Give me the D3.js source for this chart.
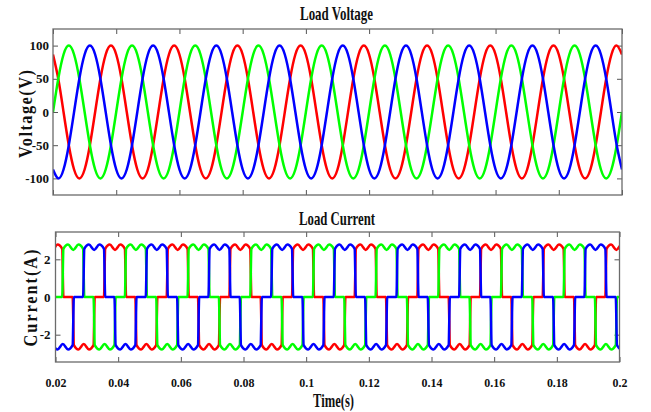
<!DOCTYPE html>
<html>
<head>
<meta charset="utf-8">
<script src="https://d3js.org/d3.v7.min.js"></script>
<style>
  body { margin: 0; background: #fff; }
  text { font-family: "Liberation Serif", "Times New Roman", serif; font-weight: bold; fill: #111; }
</style>
</head>
<body>
<div id="chart"></div>
<script>
// ---- data (time in ms) ----

// x axis ticks
const xTicks = [20, 40, 60, 80, 100, 120, 140, 160, 180, 200];
const xTickLabels = ["0.02", "0.04", "0.06", "0.08", "0.1", "0.12", "0.14", "0.16", "0.18", "0.2"];

// voltage ticks
const vTicks = [-100, -50, 0, 50, 100];
const vTickLabels = ["-100", "-50", "0", "50", "100"];

// current ticks
const iTicks = [-2, 0, 2];
const iTickLabels = ["-2", "0", "2"];

// load voltage samples
const vTime = [
  20, 21.667, 23.333, 25, 26.667, 28.333, 30, 31.667, 33.333, 35, 36.667, 38.333,
  40, 41.667, 43.333, 45, 46.667, 48.333, 50, 51.667, 53.333, 55, 56.667, 58.333,
  60, 61.667, 63.333, 65, 66.667, 68.333, 70, 71.667, 73.333, 75, 76.667, 78.333,
  80, 81.667, 83.333, 85, 86.667, 88.333, 90, 91.667, 93.333, 95, 96.667, 98.333,
  100, 101.667, 103.333, 105, 106.667, 108.333, 110, 111.667, 113.333, 115, 116.667, 118.333,
  120, 121.667, 123.333, 125, 126.667, 128.333, 130, 131.667, 133.333, 135, 136.667, 138.333,
  140, 141.667, 143.333, 145, 146.667, 148.333, 150, 151.667, 153.333, 155, 156.667, 158.333,
  160, 161.667, 163.333, 165, 166.667, 168.333, 170, 171.667, 173.333, 175, 176.667, 178.333,
  180, 181.667, 183.333, 185, 186.667, 188.333, 190, 191.667, 193.333, 195, 196.667, 198.333,
  200
];
const vRed = [
  86.6, 50, 0, -50, -86.6, -100, -86.6, -50, 0, 50, 86.6, 100,
  86.6, 50, 0, -50, -86.6, -100, -86.6, -50, 0, 50, 86.6, 100,
  86.6, 50, 0, -50, -86.6, -100, -86.6, -50, 0, 50, 86.6, 100,
  86.6, 50, 0, -50, -86.6, -100, -86.6, -50, 0, 50, 86.6, 100,
  86.6, 50, 0, -50, -86.6, -100, -86.6, -50, 0, 50, 86.6, 100,
  86.6, 50, 0, -50, -86.6, -100, -86.6, -50, 0, 50, 86.6, 100,
  86.6, 50, 0, -50, -86.6, -100, -86.6, -50, 0, 50, 86.6, 100,
  86.6, 50, 0, -50, -86.6, -100, -86.6, -50, 0, 50, 86.6, 100,
  86.6, 50, 0, -50, -86.6, -100, -86.6, -50, 0, 50, 86.6, 100,
  86.6
];
const vGreen = [
  0, 50, 86.6, 100, 86.6, 50, 0, -50, -86.6, -100, -86.6, -50,
  0, 50, 86.6, 100, 86.6, 50, 0, -50, -86.6, -100, -86.6, -50,
  0, 50, 86.6, 100, 86.6, 50, 0, -50, -86.6, -100, -86.6, -50,
  0, 50, 86.6, 100, 86.6, 50, 0, -50, -86.6, -100, -86.6, -50,
  0, 50, 86.6, 100, 86.6, 50, 0, -50, -86.6, -100, -86.6, -50,
  0, 50, 86.6, 100, 86.6, 50, 0, -50, -86.6, -100, -86.6, -50,
  0, 50, 86.6, 100, 86.6, 50, 0, -50, -86.6, -100, -86.6, -50,
  0, 50, 86.6, 100, 86.6, 50, 0, -50, -86.6, -100, -86.6, -50,
  0, 50, 86.6, 100, 86.6, 50, 0, -50, -86.6, -100, -86.6, -50,
  0
];
const vBlue = [
  -86.6, -100, -86.6, -50, 0, 50, 86.6, 100, 86.6, 50, 0, -50,
  -86.6, -100, -86.6, -50, 0, 50, 86.6, 100, 86.6, 50, 0, -50,
  -86.6, -100, -86.6, -50, 0, 50, 86.6, 100, 86.6, 50, 0, -50,
  -86.6, -100, -86.6, -50, 0, 50, 86.6, 100, 86.6, 50, 0, -50,
  -86.6, -100, -86.6, -50, 0, 50, 86.6, 100, 86.6, 50, 0, -50,
  -86.6, -100, -86.6, -50, 0, 50, 86.6, 100, 86.6, 50, 0, -50,
  -86.6, -100, -86.6, -50, 0, 50, 86.6, 100, 86.6, 50, 0, -50,
  -86.6, -100, -86.6, -50, 0, 50, 86.6, 100, 86.6, 50, 0, -50,
  -86.6, -100, -86.6, -50, 0, 50, 86.6, 100, 86.6, 50, 0, -50,
  -86.6
];

// load current key points [ms, A]
const iRed = [
  [17.333,2.78],[19,2.5],[20.667,2.78],[22.133,2.55],[22.533,0],
  [25.467,0],[25.867,-2.55],[27.333,-2.78],[29,-2.5],[30.667,-2.78],[32.133,-2.55],[32.533,0],[35.467,0],[35.867,2.55],[37.333,2.78],[39,2.5],[40.667,2.78],[42.133,2.55],[42.533,0],
  [45.467,0],[45.867,-2.55],[47.333,-2.78],[49,-2.5],[50.667,-2.78],[52.133,-2.55],[52.533,0],[55.467,0],[55.867,2.55],[57.333,2.78],[59,2.5],[60.667,2.78],[62.133,2.55],[62.533,0],
  [65.467,0],[65.867,-2.55],[67.333,-2.78],[69,-2.5],[70.667,-2.78],[72.133,-2.55],[72.533,0],[75.467,0],[75.867,2.55],[77.333,2.78],[79,2.5],[80.667,2.78],[82.133,2.55],[82.533,0],
  [85.467,0],[85.867,-2.55],[87.333,-2.78],[89,-2.5],[90.667,-2.78],[92.133,-2.55],[92.533,0],[95.467,0],[95.867,2.55],[97.333,2.78],[99,2.5],[100.667,2.78],[102.133,2.55],[102.533,0],
  [105.467,0],[105.867,-2.55],[107.333,-2.78],[109,-2.5],[110.667,-2.78],[112.133,-2.55],[112.533,0],[115.467,0],[115.867,2.55],[117.333,2.78],[119,2.5],[120.667,2.78],[122.133,2.55],[122.533,0],
  [125.467,0],[125.867,-2.55],[127.333,-2.78],[129,-2.5],[130.667,-2.78],[132.133,-2.55],[132.533,0],[135.467,0],[135.867,2.55],[137.333,2.78],[139,2.5],[140.667,2.78],[142.133,2.55],[142.533,0],
  [145.467,0],[145.867,-2.55],[147.333,-2.78],[149,-2.5],[150.667,-2.78],[152.133,-2.55],[152.533,0],[155.467,0],[155.867,2.55],[157.333,2.78],[159,2.5],[160.667,2.78],[162.133,2.55],[162.533,0],
  [165.467,0],[165.867,-2.55],[167.333,-2.78],[169,-2.5],[170.667,-2.78],[172.133,-2.55],[172.533,0],[175.467,0],[175.867,2.55],[177.333,2.78],[179,2.5],[180.667,2.78],[182.133,2.55],[182.533,0],
  [185.467,0],[185.867,-2.55],[187.333,-2.78],[189,-2.5],[190.667,-2.78],[192.133,-2.55],[192.533,0],[195.467,0],[195.867,2.55],[197.333,2.78],[199,2.5],[200.667,2.78],[202.133,2.55],[202.533,0]
];
const iGreen = [
  [19.2,0],
  [22.133,0],[22.533,2.55],[24,2.78],[25.667,2.5],[27.333,2.78],[28.8,2.55],[29.2,0],[32.133,0],[32.533,-2.55],[34,-2.78],[35.667,-2.5],[37.333,-2.78],[38.8,-2.55],[39.2,0],
  [42.133,0],[42.533,2.55],[44,2.78],[45.667,2.5],[47.333,2.78],[48.8,2.55],[49.2,0],[52.133,0],[52.533,-2.55],[54,-2.78],[55.667,-2.5],[57.333,-2.78],[58.8,-2.55],[59.2,0],
  [62.133,0],[62.533,2.55],[64,2.78],[65.667,2.5],[67.333,2.78],[68.8,2.55],[69.2,0],[72.133,0],[72.533,-2.55],[74,-2.78],[75.667,-2.5],[77.333,-2.78],[78.8,-2.55],[79.2,0],
  [82.133,0],[82.533,2.55],[84,2.78],[85.667,2.5],[87.333,2.78],[88.8,2.55],[89.2,0],[92.133,0],[92.533,-2.55],[94,-2.78],[95.667,-2.5],[97.333,-2.78],[98.8,-2.55],[99.2,0],
  [102.133,0],[102.533,2.55],[104,2.78],[105.667,2.5],[107.333,2.78],[108.8,2.55],[109.2,0],[112.133,0],[112.533,-2.55],[114,-2.78],[115.667,-2.5],[117.333,-2.78],[118.8,-2.55],[119.2,0],
  [122.133,0],[122.533,2.55],[124,2.78],[125.667,2.5],[127.333,2.78],[128.8,2.55],[129.2,0],[132.133,0],[132.533,-2.55],[134,-2.78],[135.667,-2.5],[137.333,-2.78],[138.8,-2.55],[139.2,0],
  [142.133,0],[142.533,2.55],[144,2.78],[145.667,2.5],[147.333,2.78],[148.8,2.55],[149.2,0],[152.133,0],[152.533,-2.55],[154,-2.78],[155.667,-2.5],[157.333,-2.78],[158.8,-2.55],[159.2,0],
  [162.133,0],[162.533,2.55],[164,2.78],[165.667,2.5],[167.333,2.78],[168.8,2.55],[169.2,0],[172.133,0],[172.533,-2.55],[174,-2.78],[175.667,-2.5],[177.333,-2.78],[178.8,-2.55],[179.2,0],
  [182.133,0],[182.533,2.55],[184,2.78],[185.667,2.5],[187.333,2.78],[188.8,2.55],[189.2,0],[192.133,0],[192.533,-2.55],[194,-2.78],[195.667,-2.5],[197.333,-2.78],[198.8,-2.55],[199.2,0],
  [201,0]
];
const iBlue = [
  [18.8,0],[19.2,-2.55],[20.667,-2.78],[22.333,-2.5],[24,-2.78],[25.467,-2.55],[25.867,0],
  [28.8,0],[29.2,2.55],[30.667,2.78],[32.333,2.5],[34,2.78],[35.467,2.55],[35.867,0],[38.8,0],[39.2,-2.55],[40.667,-2.78],[42.333,-2.5],[44,-2.78],[45.467,-2.55],[45.867,0],
  [48.8,0],[49.2,2.55],[50.667,2.78],[52.333,2.5],[54,2.78],[55.467,2.55],[55.867,0],[58.8,0],[59.2,-2.55],[60.667,-2.78],[62.333,-2.5],[64,-2.78],[65.467,-2.55],[65.867,0],
  [68.8,0],[69.2,2.55],[70.667,2.78],[72.333,2.5],[74,2.78],[75.467,2.55],[75.867,0],[78.8,0],[79.2,-2.55],[80.667,-2.78],[82.333,-2.5],[84,-2.78],[85.467,-2.55],[85.867,0],
  [88.8,0],[89.2,2.55],[90.667,2.78],[92.333,2.5],[94,2.78],[95.467,2.55],[95.867,0],[98.8,0],[99.2,-2.55],[100.667,-2.78],[102.333,-2.5],[104,-2.78],[105.467,-2.55],[105.867,0],
  [108.8,0],[109.2,2.55],[110.667,2.78],[112.333,2.5],[114,2.78],[115.467,2.55],[115.867,0],[118.8,0],[119.2,-2.55],[120.667,-2.78],[122.333,-2.5],[124,-2.78],[125.467,-2.55],[125.867,0],
  [128.8,0],[129.2,2.55],[130.667,2.78],[132.333,2.5],[134,2.78],[135.467,2.55],[135.867,0],[138.8,0],[139.2,-2.55],[140.667,-2.78],[142.333,-2.5],[144,-2.78],[145.467,-2.55],[145.867,0],
  [148.8,0],[149.2,2.55],[150.667,2.78],[152.333,2.5],[154,2.78],[155.467,2.55],[155.867,0],[158.8,0],[159.2,-2.55],[160.667,-2.78],[162.333,-2.5],[164,-2.78],[165.467,-2.55],[165.867,0],
  [168.8,0],[169.2,2.55],[170.667,2.78],[172.333,2.5],[174,2.78],[175.467,2.55],[175.867,0],[178.8,0],[179.2,-2.55],[180.667,-2.78],[182.333,-2.5],[184,-2.78],[185.467,-2.55],[185.867,0],
  [188.8,0],[189.2,2.55],[190.667,2.78],[192.333,2.5],[194,2.78],[195.467,2.55],[195.867,0],[198.8,0],[199.2,-2.55],[200.667,-2.78],[202.333,-2.5],[204,-2.78],[205.467,-2.55],[205.867,0]
];

const colors = {red: "#ff0000", green: "#00ff00", blue: "#0000ff"};

// ---- layout ----
const width = 651, height = 412;
const boxV = {left: 53, right: 622, top: 29, bottom: 195};
const boxI = {left: 55.5, right: 619.5, top: 232, bottom: 362};

const svg = d3.select("#chart")
  .append("svg")
  .attr("width", width)
  .attr("height", height);

// draws box, inward ticks on all sides and y tick labels
function drawPanel(box, yDomain, yTicks, yLabels, id, xLabelsOn) {
  const x = d3.scaleLinear().domain([20, 200]).range([box.left, box.right]);
  const y = d3.scaleLinear().domain(yDomain).range([box.bottom, box.top]);
  const g = svg.append("g");

  const style = sel => {
    sel.select(".domain").remove();
    sel.attr("font-family", "Liberation Serif, Times New Roman, serif")
       .attr("font-size", 13).attr("font-weight", "bold");
    sel.selectAll(".tick line").attr("stroke", "#555");
  };

  g.append("g")
    .attr("transform", `translate(${box.left},0)`)
    .call(d3.axisLeft(y).tickValues(yTicks).tickFormat((d, i) => yLabels[i]).tickSize(-5).tickPadding(id === "clipV" ? 4 : 5))
    .call(style);
  g.append("g")
    .attr("transform", `translate(${box.right},0)`)
    .call(d3.axisRight(y).tickValues(yTicks).tickFormat("").tickSize(-5))
    .call(style);
  g.append("g")
    .attr("transform", `translate(0,${box.top})`)
    .call(d3.axisTop(x).tickValues(xTicks).tickFormat("").tickSize(-5))
    .call(style);
  const xb = g.append("g")
    .attr("transform", `translate(0,${box.bottom})`)
    .call(d3.axisBottom(x).tickValues(xTicks)
      .tickFormat((d, i) => xLabelsOn ? xTickLabels[i] : "")
      .tickSize(-5).tickPadding(15.5))
    .call(style);
  // tick labels of the time axis are a little condensed
  xb.selectAll(".tick text").attr("transform", "scale(0.92,1)");

  svg.append("clipPath").attr("id", id)
    .append("rect")
    .attr("x", box.left).attr("y", box.top)
    .attr("width", box.right - box.left).attr("height", box.bottom - box.top);

  const lines = svg.append("g").attr("clip-path", `url(#${id})`);
  return {x, y, g, lines};
}

// ---- voltage panel ----
const pV = drawPanel(boxV, [-125, 125], vTicks, vTickLabels, "clipV", false);
const lineV = d3.line()
  .x(d => pV.x(d[0]))
  .y(d => pV.y(d[1]))
  .curve(d3.curveNatural);

[[vRed, colors.red], [vGreen, colors.green], [vBlue, colors.blue]].forEach(([vals, c]) => {
  pV.lines.append("path")
    .datum(d3.zip(vTime, vals))
    .attr("d", lineV)
    .attr("fill", "none")
    .attr("stroke", c)
    .attr("stroke-width", 2.5);
});

// ---- current panel ----
const pI = drawPanel(boxI, [-3.45, 3.45], iTicks, iTickLabels, "clipI", true);
const lineI = d3.line()
  .x(d => pI.x(d[0]))
  .y(d => pI.y(d[1]))
  .curve(d3.curveMonotoneX);

[[iRed, colors.red], [iGreen, colors.green], [iBlue, colors.blue]].forEach(([pts, c]) => {
  pI.lines.append("path")
    .datum(pts)
    .attr("d", lineI)
    .attr("fill", "none")
    .attr("stroke", c)
    .attr("stroke-width", 2.5);
});

// frames on top
[boxV, boxI].forEach(b => {
  svg.append("rect")
    .attr("x", b.left).attr("y", b.top)
    .attr("width", b.right - b.left).attr("height", b.bottom - b.top)
    .attr("fill", "none")
    .attr("stroke", "#6b6b6b")
    .attr("stroke-width", 1.3);
});

// ---- titles and labels ----
svg.append("text")
  .attr("x", 336.5).attr("y", 20.3)
  .attr("text-anchor", "middle")
  .attr("font-size", 19)
  .attr("textLength", 73).attr("lengthAdjust", "spacingAndGlyphs")
  .text("Load Voltage");

svg.append("text")
  .attr("x", 337).attr("y", 225)
  .attr("text-anchor", "middle")
  .attr("font-size", 19)
  .attr("textLength", 76).attr("lengthAdjust", "spacingAndGlyphs")
  .text("Load Current");

svg.append("text")
  .attr("x", 333.5).attr("y", 407)
  .attr("text-anchor", "middle")
  .attr("font-size", 19)
  .attr("textLength", 41).attr("lengthAdjust", "spacingAndGlyphs")
  .text("Time(s)");

// rotated labels: slightly condensed glyphs, a bit of letter spacing
svg.append("text")
  .attr("transform", "translate(32,114) rotate(-90) scale(0.86,1)")
  .attr("text-anchor", "middle")
  .attr("font-size", 19)
  .attr("textLength", 88 / 0.86).attr("lengthAdjust", "spacing")
  .text("Voltage(V)");

svg.append("text")
  .attr("transform", "translate(37,298) rotate(-90) scale(0.86,1)")
  .attr("text-anchor", "middle")
  .attr("font-size", 19)
  .attr("textLength", 97 / 0.86).attr("lengthAdjust", "spacing")
  .text("Current(A)");
</script>
</body>
</html>
